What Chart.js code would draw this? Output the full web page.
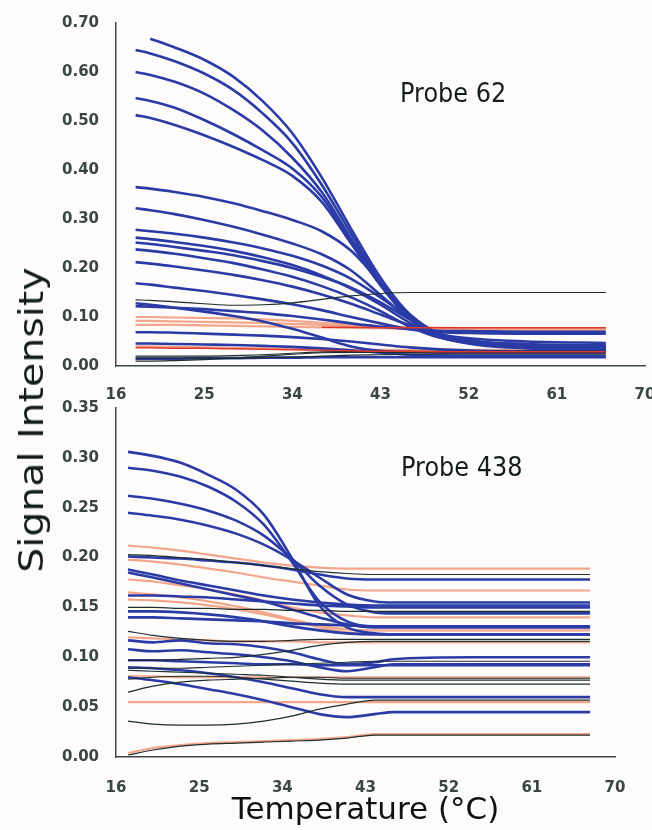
<!DOCTYPE html>
<html lang="en">
<head>
<meta charset="UTF-8">
<title>Probe melting curves</title>
<script src="https://cdn.jsdelivr.net/npm/chart.js"></script>
<style>
  * { margin: 0; padding: 0; box-sizing: border-box; }
  body { width: 652px; height: 830px; background: #fdfcfb; position: relative; overflow: hidden; font-family: "DejaVu Sans", sans-serif; }
  canvas { position: absolute; left: 0; }
  #top62 { top: 0; }
  #bot438 { top: 390px; }
  .lbl { position: absolute; white-space: nowrap; line-height: 1; color: #141c1c; }
  #yTitle { left: 31px; top: 420px; font-size: 34px; transform: translate(-50%, -50%) rotate(-90deg) scaleX(1.16); }
  #probe62 { left: 400px; top: 93px; font-size: 24px; transform: translateY(-50%) scaleY(1.1); }
  #probe438 { left: 401px; top: 467px; font-size: 24px; transform: translateY(-50%) scaleY(1.1); }
</style>
</head>
<body>
<canvas id="top62" width="652" height="400"></canvas>
<canvas id="bot438" width="652" height="440"></canvas>
<div class="lbl" id="yTitle">Signal Intensity</div>
<div class="lbl" id="probe62">Probe 62</div>
<div class="lbl" id="probe438">Probe 438</div>

<script>
// ---- Probe 62 (top panel) ----
const tempTop = [18, 19.5, 22, 25, 28, 31, 34, 37, 40, 43, 46, 49, 53, 58, 66];

const blueTop = [
  [null, .668, .65, .625, .59, .54, .475, .385, .28, .18, .105, .066, .05, .043, .04],
  [.645, .638, .622, .597, .563, .515, .455, .37, .27, .172, .1, .062, .045, .038, .035],
  [.60, .594, .58, .556, .522, .48, .425, .355, .26, .168, .097, .06, .043, .036, .033],
  [.547, .541, .527, .502, .473, .44, .403, .345, .255, .165, .096, .06, .045, .039, .036],
  [.512, .506, .492, .471, .447, .42, .388, .335, .25, .165, .098, .064, .048, .041, .038],
  [.365, .362, .355, .345, .332, .316, .298, .275, .235, .17, .105, .065, .048, .041, .038],
  [.322, .318, .31, .298, .284, .268, .25, .228, .195, .145, .095, .062, .045, .038, .035],
  [.278, .275, .27, .262, .252, .24, .225, .205, .178, .14, .098, .065, .048, .041, .038],
  [.262, .259, .253, .245, .235, .222, .206, .185, .158, .125, .088, .06, .046, .041, .04],
  [.252, .249, .243, .235, .226, .214, .2, .182, .16, .13, .095, .066, .05, .045, .042],
  [.238, .235, .229, .22, .21, .197, .182, .163, .14, .112, .08, .058, .046, .04, .037],
  [.212, .209, .203, .195, .186, .175, .162, .146, .127, .105, .083, .065, .055, .05, .047],
  [.169, .166, .16, .153, .145, .136, .126, .114, .1, .087, .075, .069, .067, .066, .066],
  [.128, .125, .119, .111, .102, .091, .076, .058, .04, .031, .028, .027, .027, .027, .027],
  [.122, .121, .119, .116, .112, .108, .102, .095, .087, .08, .075, .072, .071, .07, .07],
  [.069, .069, .068, .066, .064, .062, .059, .055, .05, .044, .038, .034, .031, .03, .03],
  [.046, .046, .045, .044, .043, .041, .039, .036, .032, .027, .023, .021, .02, .02, .02],
  [.015, .015, .015, .016, .016, .017, .017, .018, .018, .018, .018, .018, .018, .018, .018]
];
const blackTop = [
  [.135, .134, .131, .127, .124, .125, .129, .136, .143, .148, .15, .15, .15, .15, .15],
  [.02, .02, .02, .02, .021, .023, .026, .029, .03, .03, .03, .03, .03, .03, .03],
  [.01, .01, .011, .013, .016, .02, .024, .027, .028, .028, .028, .028, .028, .028, .028],
  [.016, .016, .016, .016, .016, .017, .018, .02, .022, .023, .024, .024, .024, .024, .024]
];
const salmonTop = [
  [.1, .1, .099, .098, .097, .095, .092, .088, .084, .081, .079, .078, .077, .077, .077],
  [.092, .092, .091, .09, .089, .088, .086, .084, .081, .079, .077, .076, .076, .075, .075],
  [.084, .084, .084, .083, .082, .081, .08, .079, .078, .077, .076, .075, .075, .074, .074],
  [.04, .04, .039, .038, .037, .036, .035, .034, .033, .033, .033, .033, .033, .033, .033]
];
const redTop = [
  [null, null, null, null, null, null, null, .079, .079, .078, .078, .078, .078, .078, .078],
  [.037, .037, .036, .036, .035, .034, .033, .032, .031, .03, .03, .029, .029, .029, .029]
];

// ---- Probe 438 (bottom panel) ----
const tempBot = [17.3, 20, 23, 26, 29, 32, 35, 38, 41, 44, 46, 55, 67.3];

const blueBot = [
  [.306, .302, .295, .283, .268, .243, .2, .152, .13, .124, .123, .123, .123],
  [.29, .287, .281, .271, .256, .233, .196, .156, .136, .131, .131, .131, .131],
  [.262, .259, .254, .247, .237, .222, .199, .172, .153, .145, .144, .144, .144],
  [.245, .242, .238, .232, .224, .213, .198, .18, .163, .156, .155, .155, .155],
  [.201, .2, .199, .197, .195, .192, .188, .183, .179, .178, .178, .178, .178],
  [.188, .183, .177, .172, .167, .162, .158, .155, .153, .152, .152, .152, .152],
  [.185, .18, .174, .168, .162, .156, .148, .14, .133, .13, .13, .13, .13],
  [.162, .162, .161, .16, .158, .156, .154, .152, .151, .15, .15, .15, .15],
  [.146, .146, .145, .143, .14, .136, .131, .127, .124, .123, .123, .123, .123],
  [.14, .14, .139, .138, .137, .136, .134, .133, .132, .131, .131, .131, .131],
  [.117, .115, .117, .114, .113, .11, .105, .098, .093, .095, .098, .1, .1],
  [.108, .106, .107, .105, .103, .1, .096, .09, .086, .09, .093, .093, .093],
  [.097, .097, .096, .095, .094, .093, .093, .092, .092, .092, .092, .092, .092],
  [.09, .089, .087, .084, .08, .075, .069, .063, .06, .06, .06, .06, .06],
  [.08, .077, .073, .068, .063, .057, .05, .043, .04, .043, .045, .045, .045]
];
const blackBot = [
  [.203, .202, .2, .198, .195, .192, .189, .186, .184, .183, .183, .183, .183],
  [.15, .15, .149, .149, .148, .148, .147, .147, .146, .146, .146, .146, .146],
  [.126, .122, .119, .117, .116, .116, .117, .118, .118, .118, .118, .118, .118],
  [.097, .097, .098, .099, .1, .103, .107, .112, .115, .116, .116, .116, .116],
  [.089, .089, .089, .09, .091, .092, .093, .094, .095, .096, .096, .096, .096],
  [.087, .086, .085, .084, .083, .082, .08, .078, .077, .077, .077, .077, .077],
  [.078, .08, .081, .081, .08, .078, .076, .074, .073, .073, .073, .073, .073],
  [.065, .071, .075, .077, .078, .079, .08, .08, .079, .079, .079, .079, .079],
  [.036, .033, .032, .032, .033, .036, .041, .048, .053, .057, .057, .057, .057],
  [.002, .007, .011, .013, .014, .015, .016, .017, .019, .022, .022, .022, .022]
];
const salmonBot = [
  [.212, .21, .207, .203, .199, .195, .192, .19, .189, .189, .189, .189, .189],
  [.198, .196, .193, .189, .185, .18, .176, .172, .168, .167, .167, .167, .167],
  [.178, .176, .172, .168, .163, .157, .15, .145, .142, .14, .14, .14, .14],
  [.165, .163, .16, .156, .151, .145, .138, .132, .128, .127, .127, .127, .127],
  [.158, .157, .155, .152, .148, .143, .137, .13, .125, .123, .123, .123, .123],
  [.12, .119, .118, .117, .116, .116, .116, .115, .115, .115, .115, .115, .115],
  [.081, .081, .08, .08, .08, .08, .08, .08, .08, .08, .08, .08, .08],
  [.055, .055, .055, .055, .055, .055, .055, .055, .055, .055, .055, .055, .055],
  [.004, .009, .012, .014, .015, .016, .017, .018, .02, .023, .023, .023, .023]
];

const tickTop = [0, 0.7, 0.1];
const tickBot = [0, 0.35, 0.05];
const xTicks = [16, 70, 9];

// colours per group: [colour, width, order] (lower order = drawn on top)
const styles = {
  blue:   ['#2b3ba6', 2.6, 2],
  black:  ['#1e2e2e', 1.2, 1],
  salmon: ['#f4a68b', 2.2, 3],
  red:    ['#e2362c', 1.5, 0]
};

function makeSets(temps, groups) {
  const sets = [];
  groups.forEach(([name, rows]) => {
    const st = styles[name];
    rows.forEach(vals => {
      sets.push({
        data: vals.map((v, i) => ({ x: temps[i], y: v })),
        borderColor: st[0],
        borderWidth: st[1],
        order: st[2],
        pointRadius: 0,
        fill: false,
        cubicInterpolationMode: 'monotone'
      });
    });
  });
  return sets;
}

const axisColor = '#3c4a4a';
const tickFont = { family: 'DejaVu Sans', size: 15, weight: 'bold' };
const tickColor = '#3a4646';

function buildChart(id, temps, groups, yRange, pad, xHeight, tickPad, title) {
  return new Chart(document.getElementById(id), {
    type: 'line',
    data: { datasets: makeSets(temps, groups) },
    options: {
      responsive: false,
      animation: false,
      layout: { padding: pad },
      plugins: { legend: { display: false }, tooltip: { enabled: false } },
      scales: {
        x: {
          type: 'linear',
          min: xTicks[0], max: xTicks[1],
          grid: { display: false },
          border: { color: axisColor, width: 1.5 },
          ticks: { stepSize: xTicks[2], font: tickFont, color: tickColor, padding: tickPad, maxRotation: 0 },
          title: title ? {
            display: true, text: title, color: '#111',
            font: { family: 'DejaVu Sans', size: 31 }, padding: 0
          } : { display: false },
          afterFit(s) { s.height = xHeight; s.paddingLeft = 0; s.paddingRight = 0; }
        },
        y: {
          min: yRange[0], max: yRange[1],
          grid: { display: false },
          border: { color: axisColor, width: 1.5 },
          ticks: {
            stepSize: yRange[2], font: tickFont, color: tickColor, padding: 9,
            callback: v => v.toFixed(2)
          },
          afterFit(s) { s.width = 116; }
        }
      }
    }
  });
}

buildChart('top62', tempTop,
  [['salmon', salmonTop], ['blue', blueTop], ['black', blackTop], ['red', redTop]],
  tickTop, { top: 23, right: 7, bottom: 0, left: 0 }, 34, 12, null);

buildChart('bot438', tempBot,
  [['salmon', salmonBot], ['blue', blueBot], ['black', blackBot]],
  tickBot, { top: 8, right: 37, bottom: 0, left: 0 }, 73, 14, 'Temperature (°C)');
</script>
</body>
</html>
